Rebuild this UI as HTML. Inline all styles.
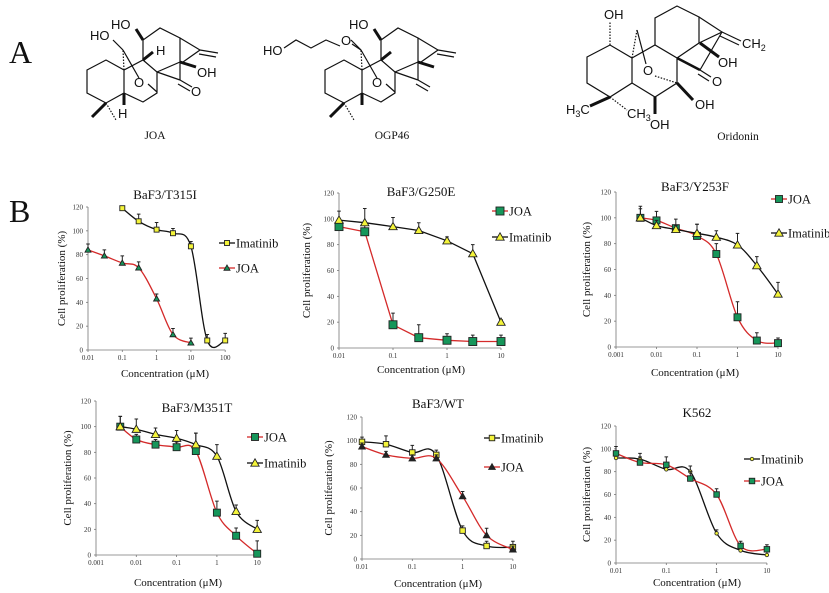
<!DOCTYPE html>
<html><head><meta charset="utf-8"><style>
html,body{margin:0;padding:0;background:#fff}
svg{display:block}
text{font-family:"Liberation Serif",serif;fill:#111}
.tk{font-size:7px;fill:#333}
.ax{font-size:11px}
.tt{font-size:13px}
.lg{font-size:12.5px}
.ch{font-family:"Liberation Sans",sans-serif;font-size:13px}
</style></head><body>
<svg id="fig" width="829" height="593" viewBox="0 0 829 593" xmlns="http://www.w3.org/2000/svg">
<text x="9" y="63" font-size="32">A</text>
<text x="9" y="222" font-size="32">B</text>
<g id="joa" stroke="#111" stroke-width="1.2" fill="none">
<polygon points="87,70 106,60 124,70 124,93 106,103 87,93"/>
<polyline points="124,70 143,60 157,72 157,93 143,102 124,93"/>
<polyline points="143,60 143,40 160,28 180,38 180,62 157,72"/>
<polyline points="180,38 200,50 183,62"/>
<line x1="200" y1="50" x2="218" y2="53"/><line x1="199" y1="54" x2="216" y2="57"/>
<line x1="157" y1="72" x2="180" y2="80"/><line x1="180" y1="62" x2="180" y2="80"/>
<line x1="180" y1="80" x2="192" y2="87"/><line x1="178" y1="84" x2="190" y2="91"/>
<line x1="180" y1="62" x2="196" y2="67" stroke-width="3"/>
<line x1="124" y1="70" x2="123" y2="50" stroke-dasharray="1.5,1.5"/>
<line x1="123" y1="50" x2="113" y2="40"/>
<line x1="123" y1="50" x2="139" y2="78"/><line x1="148" y1="84" x2="157" y2="92"/>
<line x1="143" y1="40" x2="136" y2="29" stroke-width="3"/>
<line x1="143" y1="60" x2="153" y2="52" stroke-width="3"/>
<line x1="106" y1="103" x2="92" y2="117" stroke-width="3"/>
<line x1="106" y1="103" x2="116" y2="120" stroke-dasharray="1.5,1.5"/>
<line x1="124" y1="93" x2="124" y2="105" stroke-width="3"/>
</g>
<g font-family="Liberation Sans">
<text class="ch" x="90" y="40">HO</text><text class="ch" x="111" y="29">HO</text>
<text class="ch" x="156" y="55">H</text><text class="ch" x="197" y="77">OH</text>
<text class="ch" x="134" y="87">O</text><text class="ch" x="191" y="96">O</text>
<text class="ch" x="118" y="118">H</text>
</g>
<text x="155" y="139" font-size="11.5" text-anchor="middle">JOA</text>
<use href="#joa" transform="translate(238,0)"/>
<g stroke="#111" stroke-width="1.2" fill="none">
<polyline points="284,48 296,40 311,48 326,40 340,46"/><line x1="352" y1="44" x2="361" y2="50"/>
</g>
<g>
<text class="ch" x="263" y="55">HO</text><text class="ch" x="341" y="45">O</text>
<text class="ch" x="349" y="29">HO</text><text class="ch" x="372" y="87">O</text>
</g>
<text x="392" y="139" font-size="11.5" text-anchor="middle">OGP46</text>
<g stroke="#111" stroke-width="1.2" fill="none">
<polygon points="587,57 610,45 632,58 632,83 610,97 587,83"/>
<polyline points="632,58 655,45 677,58 677,83 655,97 632,83"/>
<polyline points="655,45 655,18 677,6 699,17 699,43 677,58"/>
<polyline points="699,17 722,32 699,43"/>
<line x1="722" y1="32" x2="741" y2="41"/><line x1="720" y1="36" x2="739" y2="45"/>
<line x1="722" y1="32" x2="700" y2="70"/>
<line x1="677" y1="58" x2="700" y2="70" stroke-width="2.5"/>
<line x1="700" y1="70" x2="711" y2="77"/><line x1="698" y1="74" x2="709" y2="81"/>
<line x1="700" y1="43" x2="719" y2="57" stroke-width="3"/>
<line x1="632" y1="58" x2="637" y2="30" stroke-dasharray="1.5,1.5"/>
<line x1="637" y1="30" x2="646" y2="64"/>
<line x1="655" y1="76" x2="677" y2="83" stroke-dasharray="1.5,1.5"/>
<line x1="610" y1="45" x2="610" y2="22" stroke-dasharray="1.5,1.5"/>
<line x1="677" y1="83" x2="693" y2="100" stroke-width="3"/>
<line x1="655" y1="97" x2="655" y2="114" stroke-width="3"/>
<line x1="610" y1="97" x2="590" y2="106" stroke-width="3"/>
<line x1="610" y1="97" x2="627" y2="110" stroke-dasharray="1.5,1.5"/>
</g>
<g>
<text class="ch" x="604" y="19">OH</text><text class="ch" x="742" y="48">CH<tspan font-size="9" dy="3">2</tspan></text>
<text class="ch" x="718" y="67">OH</text><text class="ch" x="643" y="75">O</text>
<text class="ch" x="712" y="86">O</text><text class="ch" x="695" y="109">OH</text>
<text class="ch" x="650" y="129">OH</text><text class="ch" x="566" y="114">H<tspan font-size="9" dy="3">3</tspan><tspan dy="-3">C</tspan></text>
<text class="ch" x="627" y="118">CH<tspan font-size="9" dy="3">3</tspan></text>
</g>
<text x="738" y="140" font-size="11.5" text-anchor="middle">Oridonin</text>
<g id="charts"></g>
</svg>
<script>
// ---- data ----
const t315iImaConc=[0.1,0.3,1,3,10,30,100];
const t315iImaVals=[119,108,101,98,87,8,8];
const t315iImaErr=[1,6,6,4,4,5,6];
const t315iJoaConc=[0.01,0.03,0.1,0.3,1,3,10];
const t315iJoaVals=[84,79,73,69,43,13,6];
const t315iJoaErr=[5,5,6,5,4,5,4];

const g250eConc=[0.01,0.03,0.1,0.3,1,3,10];
const g250eJoaVals=[94,90,18,8,6,5,5];
const g250eJoaErr=[4,5,9,10,5,5,5];
const g250eImaVals=[99,97,94,91,83,73,20];
const g250eImaErr=[7,11,7,6,3,7,2];

const y253fConc=[0.004,0.01,0.03,0.1,0.3,1,3,10];
const y253fJoaVals=[100,98,92,86,72,23,5,3];
const y253fJoaErr=[9,7,7,9,8,12,6,4];
const y253fImaVals=[100,94,91,88,85,79,63,41];
const y253fImaErr=[7,4,3,7,5,9,7,9];

const m351tConc=[0.004,0.01,0.03,0.1,0.3,1,3,10];
const m351tJoaVals=[100,90,86,84,81,33,15,1];
const m351tJoaErr=[8,4,4,4,14,9,6,10];
const m351tImaVals=[100,98,94,91,86,77,34,20];
const m351tImaErr=[8,8,5,6,9,9,5,7];

const wtConc=[0.01,0.03,0.1,0.3,1,3,10];
const wtImaVals=[99,97,90,88,24,11,10];
const wtImaErr=[4,7,6,4,4,4,5];
const wtJoaVals=[95,88,85,85,53,20,8];
const wtJoaErr=[3,3,3,3,4,6,3];

const k562Conc=[0.01,0.03,0.1,0.3,1,3,10];
const k562ImaVals=[92,91,82,80,26,11,7];
const k562ImaErr=[3,5,6,5,3,3,3];
const k562JoaVals=[96,88,86,74,60,15,12];
const k562JoaErr=[6,5,7,6,5,4,4];

const yTicks=[0,20,40,60,80,100,120];
const xTicksA=[0.01,0.1,1,10,100];
const xTicksB=[0.01,0.1,1,10];
const xTicksC=[0.001,0.01,0.1,1,10];
const xTickLabel=v=>String(v);

// ---- drawing ----
const NS='http://www.w3.org/2000/svg';
const root=document.getElementById('charts');
function mk(tag,attrs,parent){const e=document.createElementNS(NS,tag);for(const k in attrs)e.setAttribute(k,attrs[k]);(parent||root).appendChild(e);return e;}
const RED='#d42a2a', BLK='#111', YEL='#f4f43a', GRN='#16965a';
function marker(g,shape,x,y,s,fill){
  let m;
  if(shape==='sq'){m=mk('rect',{x:x-s/2,y:y-s/2,width:s,height:s,fill:fill,stroke:'#222','stroke-width':0.9},g);}
  else if(shape==='tri'){m=mk('polygon',{points:`${x},${y-s*0.6} ${x-s*0.6},${y+s*0.45} ${x+s*0.6},${y+s*0.45}`,fill:fill,stroke:'#222','stroke-width':0.9},g);}
  else {m=mk('circle',{cx:x,cy:y,r:s/2,fill:fill,stroke:'#222','stroke-width':0.8},g);}
  
  
}
function smoothPath(pts,smooth){
  if(!smooth)return 'M'+pts.map(p=>p[0].toFixed(1)+','+p[1].toFixed(1)).join('L');
  let d='M'+pts[0][0]+','+pts[0][1];
  for(let i=0;i<pts.length-1;i++){
    const p0=pts[i-1]||pts[i],p1=pts[i],p2=pts[i+1],p3=pts[i+2]||p2;
    const c1=[p1[0]+(p2[0]-p0[0])/6,p1[1]+(p2[1]-p0[1])/6];
    const c2=[p2[0]-(p3[0]-p1[0])/6,p2[1]-(p3[1]-p1[1])/6];
    d+=`C${c1[0].toFixed(1)},${c1[1].toFixed(1)} ${c2[0].toFixed(1)},${c2[1].toFixed(1)} ${p2[0].toFixed(1)},${p2[1].toFixed(1)}`;
  }
  return d;
}
function chart(c){
  const g=mk('g',{});
  
  
  const minE=Math.log10(c.xTicks[0]);
  const xs=v=>c.x0+(Math.log10(v)-minE)*c.dec;
  const ys=v=>c.yb-v/120*(c.yb-c.yt);
  const xEnd=xs(c.xTicks[c.xTicks.length-1]);
  const ax=mk('path',{d:`M${c.x0},${c.yt} L${c.x0},${c.yb} L${xEnd},${c.yb}`,stroke:'#777','stroke-width':0.8,fill:'none'},g);
  
  
  yTicks.forEach(v=>{
    mk('line',{x1:c.x0-2,x2:c.x0,y1:ys(v),y2:ys(v),stroke:'#777','stroke-width':0.8},g);
    const t=mk('text',{x:c.x0-5,y:ys(v)+2.5,'text-anchor':'end',class:'tk'},g);t.textContent=v;
    
    
  });
  c.xTicks.forEach(v=>{
    mk('line',{x1:xs(v),x2:xs(v),y1:c.yb,y2:c.yb+2,stroke:'#777','stroke-width':0.8},g);
    const t=mk('text',{x:xs(v),y:c.yb+10,'text-anchor':'middle',class:'tk'},g);t.textContent=xTickLabel(v);
    
    
  });
  const tt=mk('text',{x:c.tx,y:c.ty,'text-anchor':'middle',class:'tt'},g);tt.textContent=c.title;
  
  
  const xl=mk('text',{x:c.xlx,y:c.xly,'text-anchor':'middle',class:'ax'},g);xl.textContent='Concentration (\u03bcM)';
  
  
  const yc=(c.yt+c.yb)/2;
  const yl=mk('text',{x:c.ylx,y:yc,'text-anchor':'middle',class:'ax',transform:`rotate(-90 ${c.ylx} ${yc})`},g);yl.textContent=c.ylab||'Cell proliferation (%)';
  
  
  c.series.forEach((s,si)=>{
    const pts=s.conc.map((x,i)=>[xs(x),ys(s.vals[i])]);
    const p=mk('path',{d:smoothPath(pts,c.smooth),stroke:s.color,'stroke-width':1.3,fill:'none'},g);
    
    
    s.conc.forEach((x,i)=>{
      const X=xs(x),Y=ys(s.vals[i]),E=ys(s.vals[i]+s.err[i]);
      const eb=mk('path',{d:`M${X},${Y} L${X},${E} M${X-1.8},${E} L${X+1.8},${E}`,stroke:'#222','stroke-width':1,fill:'none'},g);
      
      
    });
    pts.forEach(pt=>marker(g,s.shape,pt[0],pt[1],s.size,s.fill));
    const ly=c.legY[si], lx=c.legX;
    const lg=mk('g',{},g);
    
    
    mk('line',{x1:lx,x2:lx+16,y1:ly,y2:ly,stroke:s.color,'stroke-width':1.3},lg);
    marker(lg,s.shape,lx+8,ly,s.size,s.fill);
    const lt=mk('text',{x:lx+17,y:ly+4.5,class:'lg'},lg);lt.textContent=s.label;
  });
}
chart({name:'chart-t315i',title:'BaF3/T315I',x0:88,dec:34.3,yb:350,yt:207,xTicks:xTicksA,tx:165,ty:199,xlx:165,xly:377,ylx:65,smooth:true,legX:219,legY:[243,268],
 series:[{label:'Imatinib',conc:t315iImaConc,vals:t315iImaVals,err:t315iImaErr,color:BLK,shape:'sq',size:5,fill:YEL},
         {label:'JOA',conc:t315iJoaConc,vals:t315iJoaVals,err:t315iJoaErr,color:RED,shape:'tri',size:5,fill:GRN}]});
chart({name:'chart-g250e',title:'BaF3/G250E',x0:339,dec:54,yb:348,yt:193,xTicks:xTicksB,tx:421,ty:196,xlx:421,xly:373,ylx:310,ylab:'Cell proliferation  (%)',smooth:false,legX:492,legY:[211,237],
 series:[{label:'JOA',conc:g250eConc,vals:g250eJoaVals,err:g250eJoaErr,color:RED,shape:'sq',size:8,fill:GRN},
         {label:'Imatinib',conc:g250eConc,vals:g250eImaVals,err:g250eImaErr,color:BLK,shape:'tri',size:7,fill:YEL}]});
chart({name:'chart-y253f',title:'BaF3/Y253F',x0:616,dec:40.5,yb:347,yt:192,xTicks:xTicksC,tx:695,ty:191,xlx:695,xly:376,ylx:590,ylab:'Cell proliferation  (%)',smooth:true,legX:771,legY:[199,233],
 series:[{label:'JOA',conc:y253fConc,vals:y253fJoaVals,err:y253fJoaErr,color:RED,shape:'sq',size:7,fill:GRN},
         {label:'Imatinib',conc:y253fConc,vals:y253fImaVals,err:y253fImaErr,color:BLK,shape:'tri',size:7,fill:YEL}]});
chart({name:'chart-m351t',title:'BaF3/M351T',x0:96,dec:40.3,yb:555,yt:401,xTicks:xTicksC,tx:197,ty:412,xlx:178,xly:586,ylx:71,ylab:'Cell proliferation  (%)',smooth:true,legX:247,legY:[437,463],
 series:[{label:'JOA',conc:m351tConc,vals:m351tJoaVals,err:m351tJoaErr,color:RED,shape:'sq',size:7,fill:GRN},
         {label:'Imatinib',conc:m351tConc,vals:m351tImaVals,err:m351tImaErr,color:BLK,shape:'tri',size:7,fill:YEL}]});
chart({name:'chart-wt',title:'BaF3/WT',x0:362,dec:50.3,yb:559,yt:417,xTicks:xTicksB,tx:438,ty:408,xlx:438,xly:587,ylx:332,smooth:true,legX:484,legY:[438,467],
 series:[{label:'Imatinib',conc:wtConc,vals:wtImaVals,err:wtImaErr,color:BLK,shape:'sq',size:5.5,fill:YEL},
         {label:'JOA',conc:wtConc,vals:wtJoaVals,err:wtJoaErr,color:RED,shape:'tri',size:5.5,fill:'#222'}]});
chart({name:'chart-k562',title:'K562',x0:616,dec:50.3,yb:563,yt:426,xTicks:xTicksB,tx:697,ty:417,xlx:697,xly:586,ylx:590,smooth:true,legX:744,legY:[459,481],
 series:[{label:'Imatinib',conc:k562Conc,vals:k562ImaVals,err:k562ImaErr,color:BLK,shape:'ci',size:3.5,fill:YEL},
         {label:'JOA',conc:k562Conc,vals:k562JoaVals,err:k562JoaErr,color:RED,shape:'sq',size:5.5,fill:GRN}]});
</script>
</body></html>
